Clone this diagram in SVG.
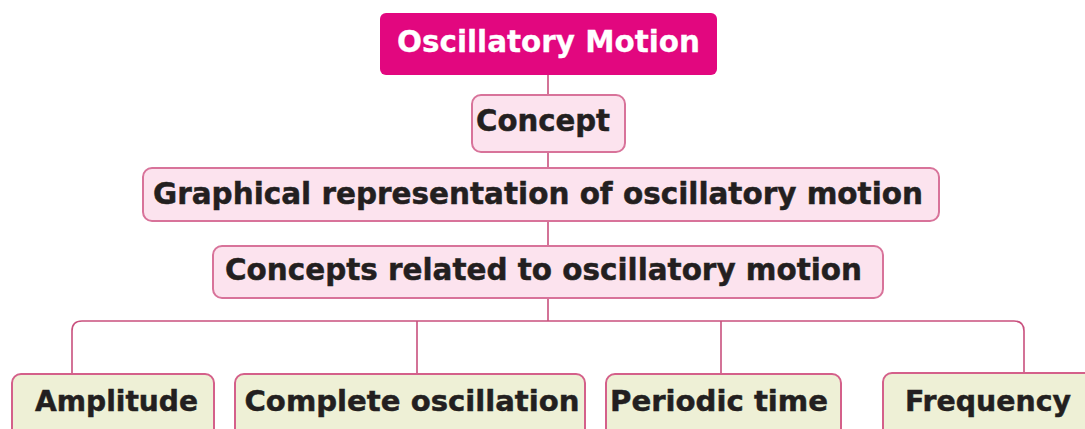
<svg xmlns="http://www.w3.org/2000/svg" width="1085" height="429" viewBox="0 0 1085 429">
<style>
.t{font-family:"DejaVu Sans",Verdana,sans-serif;font-weight:bold;fill:#231f20;stroke:#231f20;stroke-width:0.5;text-anchor:middle}
.w{fill:#ffffff;stroke:#ffffff;stroke-width:0.3}
.pink{fill:#fce3ee;stroke:#d8739a;stroke-width:2}
.green{fill:#eef0d6;stroke:#d4608a;stroke-width:2}
.c{fill:none;stroke:#c9507e;stroke-width:1.6}
</style>
<rect width="1085" height="429" fill="#ffffff"/>
<g id="connectors">
<path class="c" d="M548 75V95M548 152V168M548 221V246M548 298V321"/>
<path class="c" d="M72 374V331Q72 321 82 321H1014Q1024 321 1024 331V373M417 321V374M721 321V374"/>
</g>
<g id="n-oscillatory-motion">
<rect x="380" y="13" width="337" height="62" rx="6" fill="#e2077f"/>
<text class="t w" x="548.5" y="52" font-size="30" textLength="303" lengthAdjust="spacingAndGlyphs">Oscillatory Motion</text>
</g>
<g id="n-concept">
<rect class="pink" x="472" y="95" width="153" height="57" rx="9"/>
<text class="t" x="543" y="131" font-size="30" textLength="134" lengthAdjust="spacingAndGlyphs">Concept</text>
</g>
<g id="n-graphical">
<rect class="pink" x="143" y="168" width="796" height="53" rx="9"/>
<text class="t" x="538" y="204" font-size="31" textLength="770" lengthAdjust="spacingAndGlyphs">Graphical representation of oscillatory motion</text>
</g>
<g id="n-concepts-related">
<rect class="pink" x="213" y="246" width="670" height="52" rx="9"/>
<text class="t" x="543.5" y="280" font-size="31" textLength="637" lengthAdjust="spacingAndGlyphs">Concepts related to oscillatory motion</text>
</g>
<g id="n-amplitude">
<rect class="green" x="12" y="374" width="202" height="70" rx="9"/>
<text class="t" x="116.5" y="411" font-size="29" textLength="163" lengthAdjust="spacingAndGlyphs">Amplitude</text>
</g>
<g id="n-complete-oscillation">
<rect class="green" x="235" y="374" width="350" height="70" rx="9"/>
<text class="t" x="412" y="411" font-size="29" textLength="335" lengthAdjust="spacingAndGlyphs">Complete oscillation</text>
</g>
<g id="n-periodic-time">
<rect class="green" x="606" y="374" width="235" height="70" rx="9"/>
<text class="t" x="719" y="411" font-size="29" textLength="218" lengthAdjust="spacingAndGlyphs">Periodic time</text>
</g>
<g id="n-frequency">
<rect class="green" x="883" y="373" width="230" height="70" rx="9"/>
<text class="t" x="988" y="411" font-size="29" textLength="166" lengthAdjust="spacingAndGlyphs">Frequency</text>
</g>
</svg>
